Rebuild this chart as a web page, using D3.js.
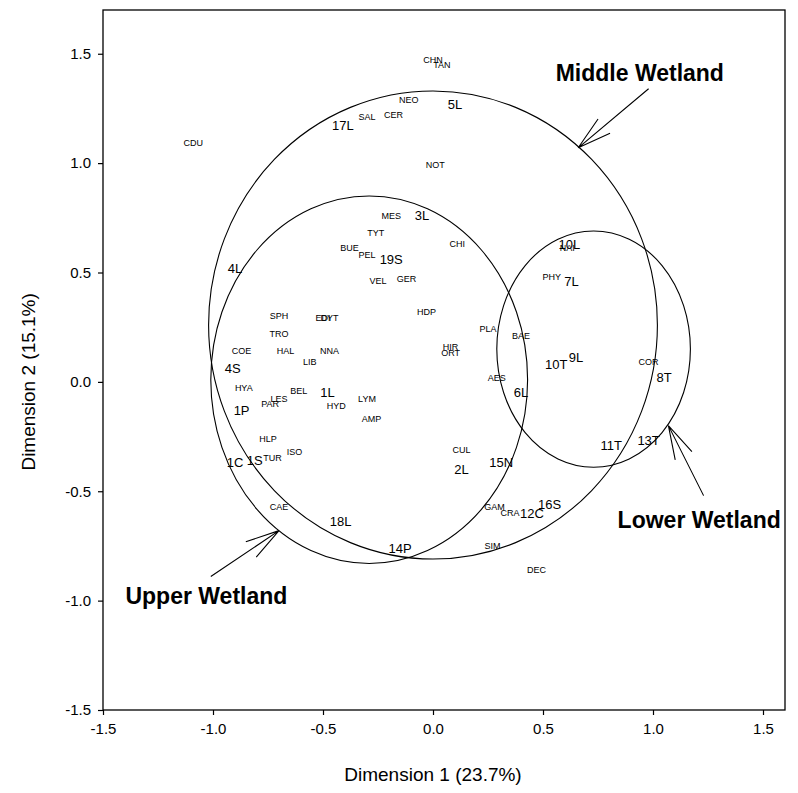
<!DOCTYPE html>
<meta charset="utf-8">
<style>
    body { margin: 0; background: white; }
    text { font-family: "Liberation Sans", Arial, sans-serif; }
</style>
<body>
<div id="chart"></div>
<script src="https://d3js.org/d3.v7.min.js"></script>
<script>
// species scores (small labels)
const species = ["CHN","TAN","NEO","SAL","CER","CDU","NOT","MES","TYT","CHI","BUE","PEL","VEL","GER","HDP","SPH","EDI","DYT","TRO","COE","HAL","NNA","LIB","HIR","ORT","PLA","BAE","NAI","PHY","COR","AES","HYA","BEL","LES","PAR","HYD","LYM","AMP","HLP","TUR","ISO","CUL","CAE","GAM","CRA","SIM","DEC"];
const speciesX = [0.00,0.04,-0.11,-0.30,-0.18,-1.09,0.01,-0.19,-0.26,0.11,-0.38,-0.30,-0.25,-0.12,-0.03,-0.70,-0.50,-0.47,-0.70,-0.87,-0.67,-0.47,-0.56,0.08,0.08,0.25,0.40,0.61,0.54,0.98,0.29,-0.86,-0.61,-0.70,-0.74,-0.44,-0.30,-0.28,-0.75,-0.73,-0.63,0.13,-0.70,0.28,0.35,0.27,0.47];
const speciesY = [1.47,1.45,1.29,1.21,1.22,1.09,0.99,0.76,0.68,0.63,0.61,0.58,0.46,0.47,0.32,0.30,0.29,0.29,0.22,0.14,0.14,0.14,0.09,0.16,0.13,0.24,0.21,0.61,0.48,0.09,0.02,-0.03,-0.04,-0.08,-0.10,-0.11,-0.08,-0.17,-0.26,-0.35,-0.32,-0.31,-0.57,-0.57,-0.60,-0.75,-0.86];

// site scores (larger labels)
const sites = ["5L","17L","3L","19S","4L","10L","7L","4S","10T","9L","8T","1L","6L","1P","11T","13T","1C","1S","2L","15N","16S","12C","18L","14P"];
const siteX = [0.10,-0.41,-0.05,-0.19,-0.90,0.62,0.63,-0.91,0.56,0.65,1.05,-0.48,0.40,-0.87,0.81,0.98,-0.90,-0.81,0.13,0.31,0.53,0.45,-0.42,-0.15];
const siteY = [1.27,1.17,0.76,0.56,0.52,0.63,0.46,0.06,0.08,0.11,0.02,-0.05,-0.05,-0.13,-0.29,-0.27,-0.37,-0.36,-0.40,-0.37,-0.56,-0.60,-0.64,-0.76];

// wetland groups: ellipse centre/radii, arrow tip & tail, label position
const groups = ["Upper Wetland","Middle Wetland","Lower Wetland"];
const ellCx = [-0.29, 0.00, 0.73];
const ellCy = [0.01, 0.26, 0.15];
const ellRx = [0.72, 1.02, 0.44];
const ellRy = [0.84, 1.07, 0.54];
const tipX = [-0.70, 0.66, 1.07];
const tipY = [-0.68, 1.07, -0.20];
const tailX = [-1.01, 0.98, 1.23];
const tailY = [-0.89, 1.34, -0.52];
const labX = [-1.03, 0.94, 1.21];
const labY = [-0.98, 1.41, -0.63];

const xTicks = [-1.5,-1.0,-0.5,0.0,0.5,1.0,1.5];
const yTicks = [-1.5,-1.0,-0.5,0.0,0.5,1.0,1.5];

const width = 798, height = 793;
const margin = {top: 10, right: 13, bottom: 83, left: 103};

const svg = d3.select('#chart').append('svg')
    .attr('width', width)
    .attr('height', height);

const x = d3.scaleLinear().domain([-1.5, 1.6]).range([margin.left, width - margin.right]);
const y = d3.scaleLinear().domain([-1.5, 1.7]).range([height - margin.bottom, margin.top]);

// frame
svg.append('rect')
    .attr('x', x(-1.5)).attr('y', y(1.7))
    .attr('width', x(1.6) - x(-1.5)).attr('height', y(-1.5) - y(1.7))
    .attr('fill', 'none').attr('stroke', 'black').attr('stroke-width', 1.3);

// plain hyphen for negatives, like the original
const fmt = d => d3.format('.1f')(d).replace('\u2212', '-');
const xAxis = svg.append('g')
    .attr('transform', `translate(0,${y(-1.5)})`)
    .call(d3.axisBottom(x).tickValues(xTicks).tickFormat(fmt).tickSize(5).tickPadding(8));
const yAxis = svg.append('g')
    .attr('transform', `translate(${x(-1.5)},0)`)
    .call(d3.axisLeft(y).tickValues(yTicks).tickFormat(fmt).tickSize(5).tickPadding(7));
[xAxis, yAxis].forEach(function(g) {
    g.select('.domain').remove();
    g.selectAll('line').attr('stroke', 'black').attr('stroke-width', 1.2);
    g.selectAll('text').attr('font-size', 15).attr('fill', 'black')
        .style('font-family', '"Liberation Sans", Arial, sans-serif');
});

svg.append('text')
    .attr('x', x(0)).attr('y', height - 12)
    .attr('text-anchor', 'middle')
    .attr('font-size', 19)
    .text('Dimension 1 (23.7%)');
svg.append('text')
    .attr('transform', `translate(28,${y(0)}) rotate(-90)`)
    .attr('text-anchor', 'middle')
    .attr('dominant-baseline', 'central')
    .attr('font-size', 19)
    .text('Dimension 2 (15.1%)');

const kx = x(1) - x(0), ky = y(0) - y(1);

// ellipses
svg.append('g').selectAll('ellipse')
    .data(groups)
    .join('ellipse')
    .attr('cx', (d, i) => x(ellCx[i]))
    .attr('cy', (d, i) => y(ellCy[i]))
    .attr('rx', (d, i) => ellRx[i] * kx)
    .attr('ry', (d, i) => ellRy[i] * ky)
    .attr('fill', 'none')
    .attr('stroke', 'black')
    .attr('stroke-width', 1.1);

// arrows
function arrowPath(i) {
    const x1 = x(tailX[i]), y1 = y(tailY[i]), x2 = x(tipX[i]), y2 = y(tipY[i]);
    const angle = Math.atan2(y2 - y1, x2 - x1);
    const head = 35, spread = 0.27;
    const p = d3.path();
    p.moveTo(x1, y1);
    p.lineTo(x2, y2);
    p.lineTo(x2 - head * Math.cos(angle - spread), y2 - head * Math.sin(angle - spread));
    p.moveTo(x2, y2);
    p.lineTo(x2 - head * Math.cos(angle + spread), y2 - head * Math.sin(angle + spread));
    return p.toString();
}
svg.append('g').selectAll('path')
    .data(groups)
    .join('path')
    .attr('d', (d, i) => arrowPath(i))
    .attr('fill', 'none')
    .attr('stroke', 'black')
    .attr('stroke-width', 1.1);

svg.append('g').selectAll('text')
    .data(groups)
    .join('text')
    .attr('x', (d, i) => x(labX[i]))
    .attr('y', (d, i) => y(labY[i]))
    .attr('text-anchor', 'middle')
    .attr('dominant-baseline', 'central')
    .attr('font-size', 23)
    .attr('font-weight', 'bold')
    .text(d => d);

// species labels
svg.append('g').selectAll('text')
    .data(species)
    .join('text')
    .attr('x', (d, i) => x(speciesX[i]))
    .attr('y', (d, i) => y(speciesY[i]))
    .attr('text-anchor', 'middle')
    .attr('dominant-baseline', 'central')
    .attr('font-size', 9)
    .text(d => d);

// site labels
svg.append('g').selectAll('text')
    .data(sites)
    .join('text')
    .attr('x', (d, i) => x(siteX[i]))
    .attr('y', (d, i) => y(siteY[i]))
    .attr('text-anchor', 'middle')
    .attr('dominant-baseline', 'central')
    .attr('font-size', 13)
    .text(d => d);
</script>
</body>
